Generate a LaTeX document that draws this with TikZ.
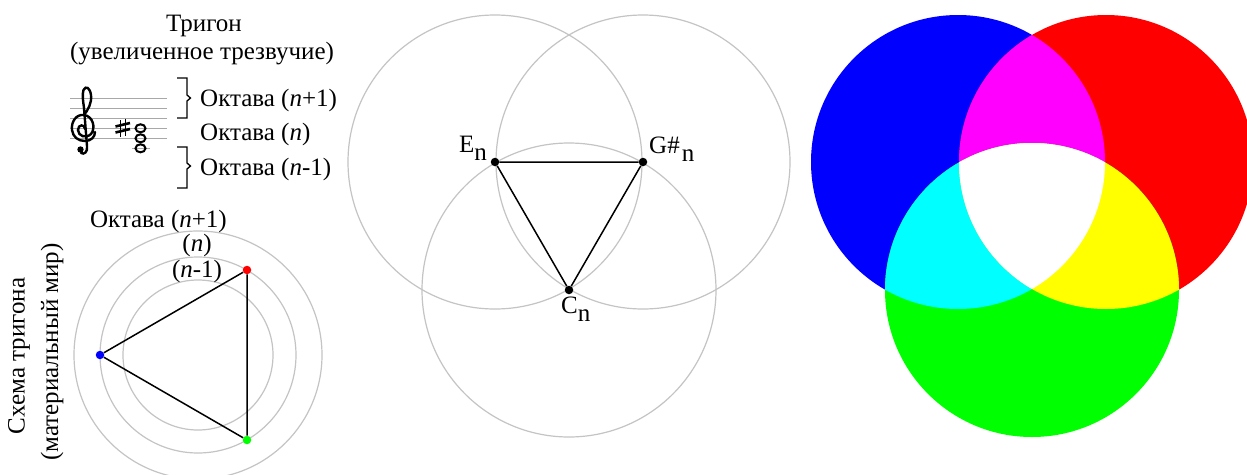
\documentclass[tikz,border=0pt]{standalone}
\usepackage{fontspec}
\setmainfont{Liberation Serif}
\definecolor{ringgrey}{HTML}{C4C4C4}
\definecolor{staffgrey}{HTML}{A8A8A8}
\definecolor{pureblue}{HTML}{0000FF}
\definecolor{purered}{HTML}{FF0000}
\definecolor{puregreen}{HTML}{00FF00}
\definecolor{puremagenta}{HTML}{FF00FF}
\definecolor{purecyan}{HTML}{00FFFF}
\definecolor{pureyellow}{HTML}{FFFF00}
\tikzset{
  txt/.style={inner sep=0pt, font=\fontsize{25}{30}\selectfont},
  ring/.style={draw=ringgrey, line width=1.2pt},
  tri/.style={draw=black, line width=1.5pt},
  dotnode/.style={circle, fill=#1, inner sep=0pt, minimum size=8.5pt},
  staffline/.style={draw=staffgrey, line width=1.2pt},
  notehead/.style={draw=black, line width=2pt},
  brace/.style={draw=black, line width=1.3pt},
}
\newcommand{\sbn}[1]{\raisebox{-8pt}{#1}}
\begin{document}
\begin{tikzpicture}[x=1pt,y=-1pt]
\useasboundingbox (0,0) rectangle (1247,474);
\clip (0,0) rectangle (1247,474);
\fill[white] (0,0) rectangle (1247,474);

% ---------- top left: staff ----------
\node[txt, anchor=base] (title) at (204,31.7) {Тригон};
\node[txt, anchor=base] (subtitle) at (202,59) {(увеличенное трезвучие)};
\foreach \yy in {98.3,108.3,118.3,128.3,138.3}
  \draw[staffline] (70,\yy) -- (167,\yy);
\draw[staffline] (132,148.3) -- (150,148.3);
% treble clef
\draw[line width=2.4pt, line cap=round]
  (85,129) .. controls (85,124) and (78,124) .. (78,130)
  .. controls (78,136) and (86,139) .. (91,134)
  .. controls (96,128) and (93,116) .. (84,115)
  .. controls (76,114) and (71,122) .. (72,130)
  .. controls (73,137) and (78,141) .. (85,141)
  .. controls (91,141) and (95,137) .. (95,132);
\draw[line width=2.4pt, line cap=round]
  (84,115) .. controls (88,110) and (92,103) .. (91,95)
  .. controls (90,88) and (86,85) .. (83.5,90)
  .. controls (82,95) and (83,100) .. (84,108)
  -- (87,146) .. controls (88,152) and (84,155) .. (81,153);
\fill (80.5,149.5) circle (3.2pt);
% sharp
\draw[line width=1.3pt] (120.5,120) -- (120.5,137);
\draw[line width=1.3pt] (125.5,118.5) -- (125.5,135.5);
\draw[line width=2.6pt] (115.5,126.5) -- (130,123);
\draw[line width=2.6pt] (115.5,132.5) -- (130,129);
% notes
\foreach \yy in {128.3,138.3,148.3}
  \draw[notehead] (140.5,\yy) ellipse (5pt and 4pt);
% braces
\draw[brace] (177,78) -- (187,78) -- (187,95) -- (190.5,98) -- (187,101) -- (187,118) -- (177,118);
\draw[brace] (177,147) -- (187,147) -- (187,163) -- (190.5,166) -- (187,169) -- (187,188) -- (177,188);
\node[txt, anchor=base west] (oct1) at (200,106) {Октава (\textit{n}+1)};
\node[txt, anchor=base west] (oct2) at (200,140) {Октава (\textit{n})};
\node[txt, anchor=base west] (oct3) at (200,175) {Октава (\textit{n}-1)};

% ---------- bottom left: rings ----------
\coordinate (O) at (198,355);
\draw[ring] (O) circle (124pt);
\draw[ring] (O) circle (98pt);
\draw[ring] (O) circle (75pt);
\node[txt, anchor=base east] (lab1) at (227,227) {Октава (\textit{n}+1)};
\node[txt, anchor=base] (lab2) at (197,251) {(\textit{n})};
\node[txt, anchor=base] (lab3) at (197,277) {(\textit{n}-1)};
\node[txt, rotate=90] (side1) at (19,356) {Схема тригона};
\node[txt, rotate=90] (side2) at (52,352) {(материальный мир)};
\node[dotnode=pureblue] (pb) at (100,355) {};
\node[dotnode=purered] (pr) at (247,270) {};
\node[dotnode=puregreen] (pg) at (247,440) {};
\draw[tri] (pb) -- (pr) -- (pg) -- (pb);

% ---------- middle: three circles ----------
\coordinate (cE) at (495,162);
\coordinate (cG) at (643,162);
\coordinate (cC) at (569,290);
\draw[ring] (cE) circle (147pt);
\draw[ring] (cG) circle (147pt);
\draw[ring] (cC) circle (147pt);
\node[dotnode=black] (E) at (cE) {};
\node[dotnode=black] (G) at (cG) {};
\node[dotnode=black] (C) at (cC) {};
\draw[tri] (E) -- (G) -- (C) -- (E);
\node[txt, anchor=base east] (Elab) at (487,152) {E\sbn{n}};
\node[txt, anchor=base west] (Glab) at (649,153) {G\#\kern2pt\sbn{n}};
\node[txt, anchor=base west] (Clab) at (561,313) {C\sbn{n}};

% ---------- right: RGB ----------
\coordinate (B) at (958,162);
\coordinate (R) at (1106,162);
\coordinate (Gr) at (1032,290);
\fill[pureblue] (B) circle (147pt);
\fill[purered] (R) circle (147pt);
\fill[puregreen] (Gr) circle (147pt);
\begin{scope}
  \clip (B) circle (147pt);
  \fill[puremagenta] (R) circle (147pt);
  \fill[purecyan] (Gr) circle (147pt);
\end{scope}
\begin{scope}
  \clip (R) circle (147pt);
  \fill[pureyellow] (Gr) circle (147pt);
\end{scope}
\begin{scope}
  \clip (B) circle (147pt);
  \clip (R) circle (147pt);
  \fill[white] (Gr) circle (147pt);
\end{scope}
\end{tikzpicture}
\end{document}
